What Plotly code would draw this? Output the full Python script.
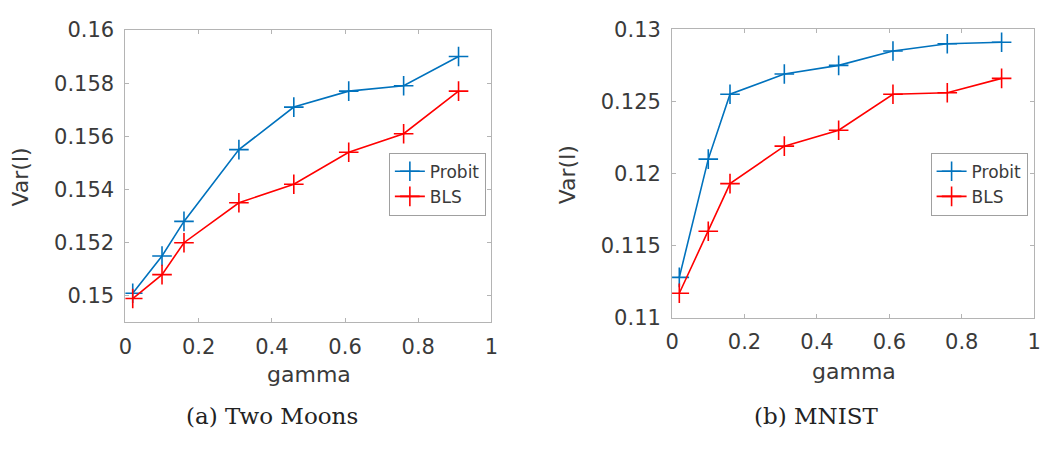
import plotly.graph_objects as go

gamma = [0.02, 0.1, 0.16, 0.31, 0.46, 0.61, 0.76, 0.91]

moons_probit = [0.1501, 0.1515, 0.1528, 0.1555, 0.1571, 0.1577, 0.1579, 0.1590]
moons_bls = [0.1499, 0.1508, 0.1520, 0.1535, 0.1542, 0.1554, 0.1561, 0.1577]

mnist_probit = [0.1128, 0.1210, 0.1255, 0.1269, 0.1275, 0.1285, 0.1290, 0.1291]
mnist_bls = [0.1117, 0.1160, 0.1193, 0.1219, 0.1230, 0.1255, 0.1256, 0.1266]

x_ticks = [0, 0.2, 0.4, 0.6, 0.8, 1]
x_ticktext = ["0", "0.2", "0.4", "0.6", "0.8", "1"]
moons_yticks = [0.15, 0.152, 0.154, 0.156, 0.158, 0.16]
moons_yticktext = ["0.15", "0.152", "0.154", "0.156", "0.158", "0.16"]
mnist_yticks = [0.11, 0.115, 0.12, 0.125, 0.13]
mnist_yticktext = ["0.11", "0.115", "0.12", "0.125", "0.13"]

BLUE = "#0072BD"
RED = "#FF0000"
AXC = "#b4b4b4"
TXT = "#3a3a3a"
FONT = "DejaVu Sans"

W, H = 1056, 449


def px(x):
    return x / W


def py(y):
    return 1 - y / H


fig = go.Figure()


def add(x, y, name, color, xa, ya, legend):
    fig.add_trace(go.Scatter(
        x=x, y=y, name=name, mode="lines+markers",
        line=dict(color=color, width=1.6),
        marker=dict(symbol="cross-thin", size=14, line=dict(color=color, width=1.6)),
        xaxis=xa, yaxis=ya, legend=legend,
    ))


add(gamma, moons_probit, "Probit", BLUE, "x", "y", "legend")
add(gamma, moons_bls, "BLS", RED, "x", "y", "legend")
add(gamma, mnist_probit, "Probit", BLUE, "x2", "y2", "legend2")
add(gamma, mnist_bls, "BLS", RED, "x2", "y2", "legend2")

axis_common = dict(
    showline=True, linecolor=AXC, linewidth=1, mirror="ticks",
    ticks="inside", ticklen=4, tickcolor=AXC, tickwidth=1,
    showgrid=False, zeroline=False,
    tickfont=dict(family=FONT, size=21, color=TXT),
    ticklabeloverflow="allow",
)

fig.update_layout(
    width=W, height=H,
    margin=dict(l=0, r=0, t=0, b=0),
    paper_bgcolor="white", plot_bgcolor="white",
    showlegend=True,
    xaxis=dict(domain=[px(120), px(491)], range=[0, 1], tickvals=x_ticks,
               ticktext=x_ticktext, anchor="y", ticklabelstandoff=5, **axis_common),
    yaxis=dict(domain=[py(328), py(19)], range=[0.149, 0.16],
               tickvals=moons_yticks, ticktext=moons_yticktext, anchor="x",
               ticklabelstandoff=6, **axis_common),
    xaxis2=dict(domain=[px(674), px(1041)], range=[0, 1], tickvals=x_ticks,
                ticktext=x_ticktext, anchor="y2", ticklabelstandoff=5, **axis_common),
    yaxis2=dict(domain=[py(323), py(18.3)], range=[0.11, 0.13],
                tickvals=mnist_yticks, ticktext=mnist_yticktext, anchor="x2",
                ticklabelstandoff=6, **axis_common),
    legend=dict(x=px(387), y=py(182), xanchor="left", yanchor="middle",
                bordercolor="#a0a0a0", borderwidth=1, bgcolor="white",
                font=dict(family=FONT, size=17, color=TXT),
                itemwidth=30, tracegroupgap=0),
    legend2=dict(x=px(936), y=py(182), xanchor="left", yanchor="middle",
                 bordercolor="#a0a0a0", borderwidth=1, bgcolor="white",
                 font=dict(family=FONT, size=17, color=TXT),
                 itemwidth=30, tracegroupgap=0),
)

annos = [
    dict(text="Var(l)", x=px(14), y=py(174), textangle=-90, size=22, family=FONT),
    dict(text="Var(l)", x=px(568), y=py(172), textangle=-90, size=22, family=FONT),
    dict(text="gamma", x=px(306), y=py(383), textangle=0, size=22, family=FONT),
    dict(text="gamma", x=px(858), y=py(380), textangle=0, size=22, family=FONT),
    dict(text="(a) Two Moons", x=px(269), y=py(427), textangle=0, size=23,
         family="DejaVu Serif", color="#222"),
    dict(text="(b) MNIST", x=px(820), y=py(427), textangle=0, size=23,
         family="DejaVu Serif", color="#222"),
]
for a in annos:
    fig.add_annotation(
        text=a["text"], x=a["x"], y=a["y"], xref="paper", yref="paper",
        xanchor="center", yanchor="middle", showarrow=False, textangle=a["textangle"],
        font=dict(family=a["family"], size=a["size"], color=a.get("color", TXT)),
    )

fig.write_html("out.html")
